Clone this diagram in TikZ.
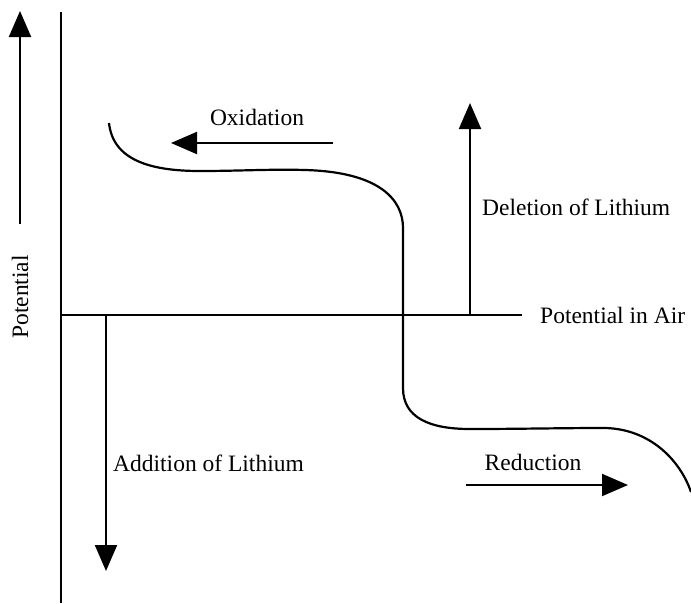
\documentclass[tikz,border=0pt]{standalone}
\usepackage{fontspec}
\setmainfont{Liberation Serif}
\usetikzlibrary{arrows.meta}
\begin{document}
\begin{tikzpicture}[x=1pt,y=-1pt,
  line/.style={line width=2pt, black},
  arr/.style={line width=2pt, -{Triangle[length=26pt,width=22pt]}},
  lbl/.style={font=\fontsize{23.5}{28}\selectfont, inner sep=0pt}]
\useasboundingbox (0,0) rectangle (691,603);
% coordinates
\coordinate (axT) at (61,12);
\coordinate (axB) at (61,603);
\coordinate (hL) at (61,315);
\coordinate (hR) at (522,315);
\coordinate (upB) at (20,224);
\coordinate (upT) at (20,11);
\coordinate (dnT) at (106,315);
\coordinate (dnB) at (106,571);
\coordinate (delB) at (470,315);
\coordinate (delT) at (470,103);
\coordinate (oxS) at (333,143);
\coordinate (oxE) at (171,143);
\coordinate (reS) at (466,485);
\coordinate (reE) at (628,485);
% axes
\draw[line] (axT) -- (axB);
\draw[line] (hL) -- (hR);
% arrows
\draw[arr] (upB) -- (upT);
\draw[arr] (dnT) -- (dnB);
\draw[arr] (delB) -- (delT);
\draw[arr] (oxS) -- (oxE);
\draw[arr] (reS) -- (reE);
% curve
\draw[line, line width=2.2pt] (109,123) .. controls (113,160) and (150,171) .. (200,171)
  .. controls (240,171) and (270,169) .. (305,170)
  .. controls (380,172) and (403,200) .. (403,228) -- (403,388)
  .. controls (403,418) and (430,429) .. (470,429)
  .. controls (520,429) and (560,428) .. (605,428)
  .. controls (650,429) and (680,460) .. (691,492);
% labels
\node[lbl] (ox) at (257,117) {Oxidation};
\node[lbl, anchor=west] (del) at (482,207) {Deletion of Lithium};
\node[lbl, anchor=west] (air) at (540,315) {Potential in Air};
\node[lbl, anchor=west] (add) at (113,463) {Addition of Lithium};
\node[lbl] (red) at (533,462) {Reduction};
\node[lbl, rotate=90] (pot) at (20,297) {Potential};
\end{tikzpicture}
\end{document}
